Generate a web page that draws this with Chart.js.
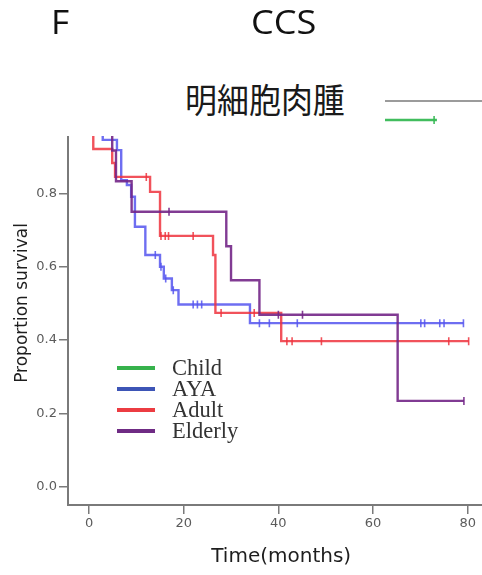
<!DOCTYPE html>
<html>
<head>
<meta charset="utf-8">
<script src="https://cdn.jsdelivr.net/npm/chart.js@4.4.1/dist/chart.umd.min.js"></script>
<style>
  html, body { margin: 0; padding: 0; background: #fff; }
  #wrap { position: relative; width: 482px; height: 575px; overflow: hidden; background: #fff; }
  #km { position: absolute; left: 0; top: 0; }
  .txt { position: absolute; white-space: nowrap; color: #111; }
  #panel { left: 51px; top: 6px; font: 32px/32px "Open Sans", sans-serif; transform: scaleX(1.1); transform-origin: left top; }
  #cohort { left: 251px; top: 6px; font: 32px/32px "Open Sans", sans-serif; transform: scaleX(1.13); transform-origin: left top; }
  #cover { position: absolute; left: 0; top: 50px; width: 385px; height: 86px; background: #fff; }
  #histology { left: 185px; top: 82px; font: 34px/34px "Noto Sans CJK JP", sans-serif; color: #1a1a1a; transform: scaleX(0.94); transform-origin: left top; }
</style>
</head>
<body>
<div id="wrap">
  <canvas id="km" width="500" height="575"></canvas>
  <div id="cover"></div>
  <div class="txt" id="panel">F</div>
  <div class="txt" id="cohort">CCS</div>
  <div class="txt" id="histology">明細胞肉腫</div>
</div>
<script>
// Axis ticks
const xTickValues = [0, 20, 40, 60, 80];
const yTickValues = [0, 0.2, 0.4, 0.6, 0.8, 1.0];

// Age groups
const groupNames = ['Child', 'AYA', 'Adult', 'Elderly'];

// Kaplan–Meier steps: month of each drop and the survival after it
const childTimes = [0, 73.5];
const childSurv = [1.0, 1.0];
const childCensored = [72.9];

const ayaTimes = [0, 2.9, 5.9, 6.8, 8.0, 8.9, 9.7, 11.9, 15.0, 15.8, 17.5, 18.9, 34.0, 79.1];
const ayaSurv = [1.0, 0.946, 0.918, 0.836, 0.823, 0.791, 0.709, 0.632, 0.600, 0.568, 0.536, 0.497, 0.446, 0.446];
const ayaCensored = [14.0, 15.2, 16.2, 17.8, 22.0, 22.9, 23.8, 36.0, 38.1, 44.0, 70.1, 70.9, 74.1, 75.0, 79.1];

const adultTimes = [0, 0.9, 4.9, 5.5, 12.9, 15.0, 26.2, 26.7, 40.6, 80.2];
const adultSurv = [1.0, 0.921, 0.883, 0.845, 0.804, 0.684, 0.632, 0.474, 0.397, 0.397];
const adultCensored = [12.1, 15.2, 16.1, 16.8, 22.0, 27.9, 34.9, 41.8, 42.9, 49.1, 76.0, 80.2];

const elderlyTimes = [0, 4.9, 5.7, 9.0, 29.0, 30.0, 36.0, 65.2, 79.2];
const elderlySurv = [1.0, 0.917, 0.833, 0.750, 0.656, 0.563, 0.469, 0.234, 0.234];
const elderlyCensored = [16.9, 40.0, 45.1, 79.2];

const lineColors = ['rgba(55,185,85,0.95)', 'rgba(85,85,238,0.85)', 'rgba(238,52,62,0.85)', 'rgba(115,38,135,0.9)'];
const legendColors = ['#36b24c', '#3d55b6', '#ec3c42', '#6f2b84'];

const groups = [
  { times: childTimes, surv: childSurv, censored: childCensored },
  { times: ayaTimes, surv: ayaSurv, censored: ayaCensored },
  { times: adultTimes, surv: adultSurv, censored: adultCensored },
  { times: elderlyTimes, surv: elderlySurv, censored: elderlyCensored }
];

// Survival at time t
function survivalAt(times, surv, t) {
  let s = surv[0];
  for (let i = 0; i < times.length; i++) {
    if (times[i] <= t) s = surv[i];
  }
  return s;
}

const datasets = [];
groups.forEach((g, i) => {
  datasets.push({
    type: 'line',
    label: groupNames[i],
    data: g.times.map((t, k) => ({ x: t, y: g.surv[k] })),
    stepped: 'before',
    borderColor: lineColors[i],
    borderWidth: 2.4,
    pointRadius: 0,
    fill: false,
    order: 10 - i,
    legendColor: legendColors[i]
  });
  datasets.push({
    type: 'scatter',
    label: groupNames[i] + ' censored',
    data: g.censored.map(t => ({ x: t, y: survivalAt(g.times, g.surv, t) })),
    pointStyle: 'line',
    rotation: 90,
    pointRadius: 4,
    pointHoverRadius: 4,
    borderColor: lineColors[i],
    backgroundColor: lineColors[i],
    pointBorderWidth: 1.6,
    showLine: false,
    order: 10 - i,
    isCensor: true
  });
});

const axisGray = '#7a7a7a';

// Top frame of the plotting area
const frameTop = {
  id: 'frameTop',
  beforeDatasetsDraw(chart) {
    const { ctx, chartArea } = chart;
    ctx.save();
    ctx.strokeStyle = '#9b9b9b';
    ctx.lineWidth = 2;
    ctx.beginPath();
    ctx.moveTo(chartArea.left, chartArea.top);
    ctx.lineTo(chartArea.right, chartArea.top);
    ctx.stroke();
    ctx.restore();
  }
};

// Group key placed inside the plot
const groupKey = {
  id: 'groupKey',
  afterDraw(chart) {
    const { ctx, chartArea } = chart;
    const items = chart.data.datasets.filter(d => !d.isCensor);
    const x0 = chartArea.left + 49;
    const x1 = chartArea.left + 87;
    const tx = chartArea.left + 104;
    const y0 = 368;
    const dy = 21;
    ctx.save();
    items.forEach((d, i) => {
      const y = y0 + i * dy;
      ctx.strokeStyle = d.legendColor;
      ctx.lineWidth = 4;
      ctx.lineCap = 'butt';
      ctx.beginPath();
      ctx.moveTo(x0, y);
      ctx.lineTo(x1, y);
      ctx.stroke();
      ctx.fillStyle = '#333';
      ctx.font = '22.5px "Liberation Serif", serif';
      ctx.textBaseline = 'alphabetic';
      ctx.textAlign = 'left';
      ctx.fillText(d.label, tx, y + 7);
    });
    ctx.restore();
  }
};

new Chart(document.getElementById('km'), {
  type: 'line',
  data: { datasets },
  options: {
    responsive: false,
    animation: false,
    devicePixelRatio: 1,
    layout: { padding: { top: 101, left: 0, right: 0, bottom: 0 } },
    plugins: {
      legend: { display: false },
      tooltip: { enabled: false }
    },
    scales: {
      x: {
        type: 'linear',
        min: -4.44,
        max: 85.64,
        afterBuildTicks: s => { s.ticks = xTickValues.map(v => ({ value: v })); },
        afterFit: s => { s.height = 70; s.paddingLeft = 0; s.paddingRight = 0; },
        grid: { drawOnChartArea: false, drawTicks: true, tickLength: 9, color: axisGray, lineWidth: 1.5 },
        border: { color: axisGray, width: 2 },
        ticks: {
          font: { family: 'DejaVu Sans', size: 13 },
          color: '#5b5b5b',
          padding: 2,
          maxRotation: 0,
          callback: v => String(v)
        },
        title: {
          display: true,
          text: 'Time(months)',
          font: { family: 'DejaVu Sans', size: 20 },
          color: '#1e1e1e',
          padding: { top: 0, bottom: 6 }
        }
      },
      y: {
        min: -0.05,
        max: 1.052,
        afterBuildTicks: s => { s.ticks = yTickValues.map(v => ({ value: v })); },
        afterFit: s => { s.width = 68; s.paddingTop = 0; s.paddingBottom = 0; },
        grid: { drawOnChartArea: false, drawTicks: true, tickLength: 9, color: axisGray, lineWidth: 1.5 },
        border: { color: axisGray, width: 2 },
        ticks: {
          font: { family: 'DejaVu Sans', size: 13 },
          color: '#5b5b5b',
          padding: 2,
          callback: v => Number(v).toFixed(1)
        },
        title: {
          display: true,
          text: 'Proportion survival',
          font: { family: 'DejaVu Sans', size: 17 },
          color: '#1e1e1e',
          padding: { top: 12, bottom: 0 }
        }
      }
    }
  },
  plugins: [frameTop, groupKey]
});
</script>
</body>
</html>
